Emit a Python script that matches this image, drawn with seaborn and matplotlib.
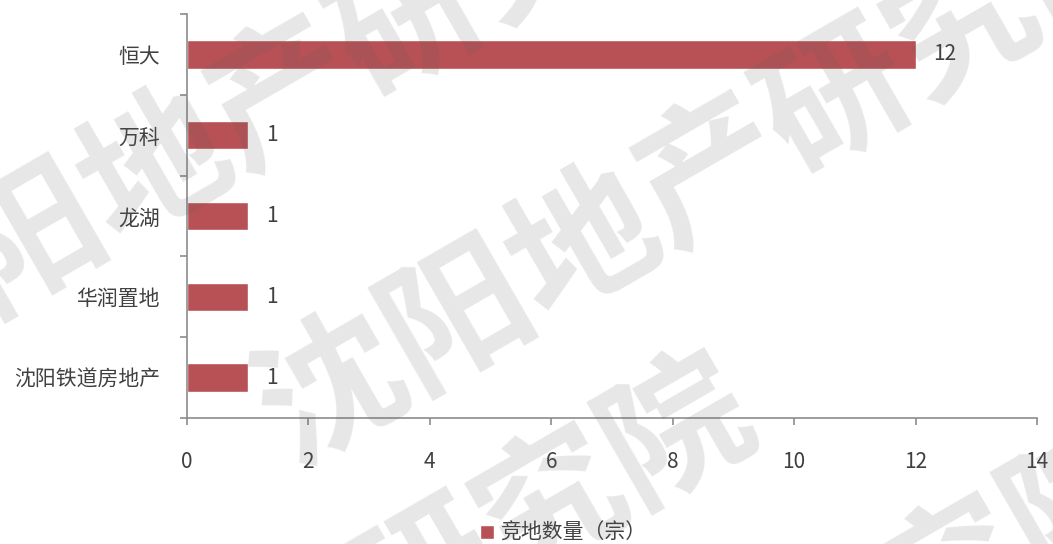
import pandas as pd
import numpy as np
import matplotlib
matplotlib.use('Agg')
import matplotlib.pyplot as plt
import seaborn as sns

companies = ['恒大', '万科', '龙湖', '华润置地', '沈阳铁道房地产']
counts = [12, 1, 1, 1, 1]
series_name = '竞地数量（宗）'
x_ticks = [0, 2, 4, 6, 8, 10, 12, 14]
watermark = '沈阳地产研究院'

df = pd.DataFrame({'company': companies, 'count': counts})

sns.set_style('white')
plt.rcParams['font.family'] = ['Noto Sans CJK SC', 'DejaVu Sans']

bar_color = '#B85155'
axis_color = '#8C8C8C'
text_color = '#404040'

fig = plt.figure(figsize=(10.53, 5.44), dpi=100)
ax = fig.add_axes([0.1776, 0.2316, 0.8072, 0.7427])

sns.barplot(df, x='count', y='company', orient='h', color=bar_color,
            width=0.35, saturation=1, label=series_name, ax=ax)

ax.set_xlim(0, 14)
ax.set_ylim(len(companies) - 0.5, -0.5)
ax.set_xticks(x_ticks)
ax.set_xlabel('')
ax.set_ylabel('')

# y ticks sit on the category boundaries
ax.set_yticks(np.arange(-0.5, len(companies) + 0.5, 1), minor=True)
ax.tick_params(axis='y', which='major', left=False, pad=16, labelsize=15, labelcolor=text_color)
ax.tick_params(axis='y', which='minor', left=True, length=5, width=1.2, color=axis_color, direction='out')
ax.tick_params(axis='x', which='major', bottom=True, length=5, width=1.2, color=axis_color,
               direction='out', pad=19, labelsize=15, labelcolor=text_color)
for lbl in ax.get_xticklabels() + ax.get_yticklabels():
    lbl.set_fontweight('light')

for side in ['top', 'right']:
    ax.spines[side].set_visible(False)
for side in ['left', 'bottom']:
    ax.spines[side].set_color(axis_color)
    ax.spines[side].set_linewidth(1.2)

for c in ax.containers:
    ax.bar_label(c, padding=13, fontsize=15, color=text_color, fontweight='light')

leg = ax.legend(loc='center', bbox_to_anchor=(0.535, 0.02), bbox_transform=fig.transFigure,
                frameon=False, fontsize=15, handlelength=0.65, handleheight=0.65,
                handletextpad=0.3, labelcolor=text_color)
for t in leg.get_texts():
    t.set_fontweight('light')

# faint diagonal watermark, drawn over the chart
for (px, py) in [(284, 96), (712, 173), (300, 652), (703, 722)]:
    fig.text(px / 1053, 1 - py / 544, watermark, fontsize=105, fontweight='heavy',
             color='#5E5E5E', alpha=0.15, rotation=30, ha='center', va='center',
             rotation_mode='anchor', zorder=10)

fig.savefig('out.png', dpi=100, facecolor='white')
